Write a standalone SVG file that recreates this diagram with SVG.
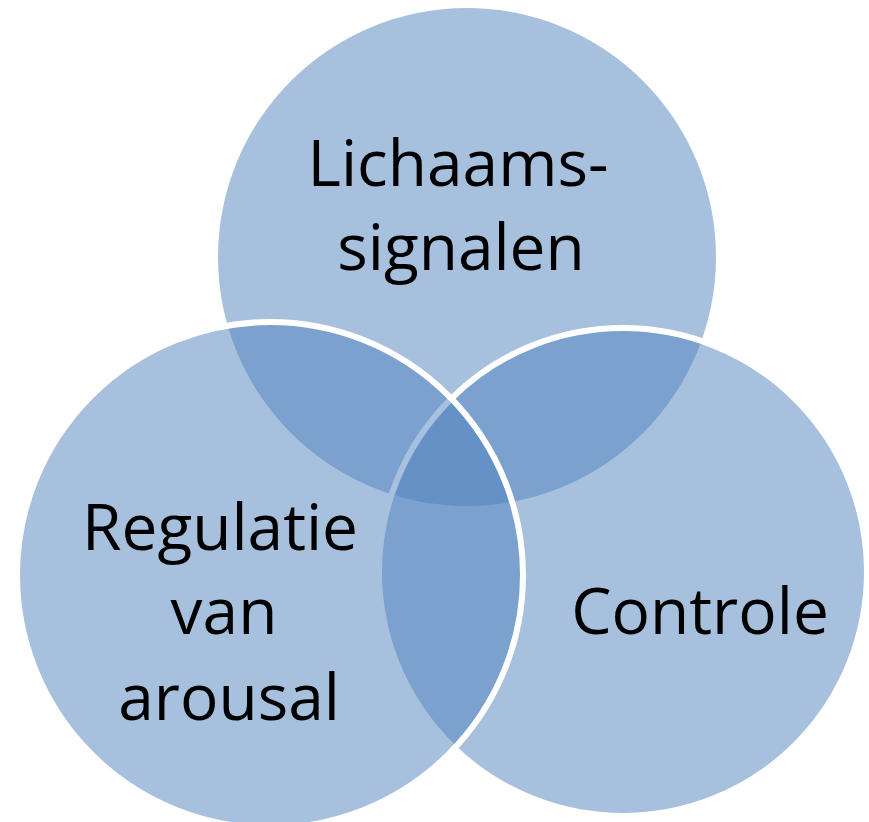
<svg xmlns="http://www.w3.org/2000/svg" width="869" height="822" viewBox="0 0 869 822">
<style>
.c{fill:#4f81bd;fill-opacity:0.5}
.s{stroke:#ffffff;stroke-width:6}
text{font-family:"Open Sans","Liberation Sans",sans-serif;font-size:64px;fill:#000000;text-anchor:middle}
</style>
<rect width="869" height="822" fill="#ffffff"/>
<g id="top">
<circle class="c" cx="467" cy="257" r="249"/>
</g>
<g id="right">
<circle class="c s" cx="623" cy="572" r="244"/>
</g>
<g id="left">
<circle class="c s" cx="270" cy="575" r="253"/>
</g>
<g id="connectors"></g>
<g id="labels">
<text x="458" y="186">Lichaams-</text>
<text x="461" y="270">signalen</text>
<text x="220" y="550">Regulatie</text>
<text x="224" y="634">van</text>
<text x="229" y="720">arousal</text>
<text x="700" y="634">Controle</text>
</g>
</svg>
